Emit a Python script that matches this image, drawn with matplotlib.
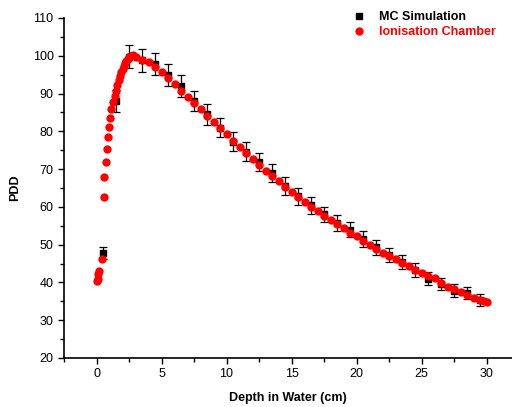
import matplotlib
matplotlib.use("Agg")
import matplotlib.pyplot as plt


# MC simulation (black squares with error bars)
MC_DEPTH = [0.5, 1.5, 2.5, 3.5, 4.5, 5.5, 6.5, 7.5, 8.5, 9.5, 10.5, 11.5, 12.5, 13.5, 14.5,
            15.5, 16.5, 17.5, 18.5, 19.5, 20.5, 21.5, 22.5, 23.5, 24.5, 25.5, 26.5, 27.5, 28.5, 29.5]
MC_PDD = [47.8, 88.0, 99.8, 98.8, 97.8, 95.0, 92.0, 88.0, 84.5, 81.0, 77.3, 74.6, 71.8, 69.0, 65.5,
          62.8, 60.4, 58.0, 55.8, 54.0, 51.5, 49.3, 47.3, 45.4, 43.3, 41.0, 39.6, 37.8, 37.2, 35.3]
MC_ERR = [1.5, 3.0, 3.0, 3.0, 2.9, 2.9, 2.8, 2.7, 2.7, 2.6, 2.5, 2.5, 2.4, 2.4, 2.3,
          2.2, 2.2, 2.1, 2.1, 2.0, 2.0, 2.0, 1.9, 1.9, 1.8, 1.7, 1.7, 1.7, 1.6, 1.6]

# Ionisation chamber measurement (red circles)
IC_DEPTH = [0.05, 0.1, 0.15, 0.2, 0.45, 0.55, 0.6, 0.7, 0.8, 0.85, 0.95, 1.05, 1.15, 1.3, 1.4,
            1.5, 1.6, 1.7, 1.8, 1.9, 2.0, 2.1, 2.2, 2.3, 2.4, 2.5, 2.6, 2.8, 3.0, 3.5,
            4.0, 4.5, 5.0, 5.5, 6.0, 6.5, 7.0, 7.5, 8.0, 8.5, 9.0, 9.5, 10.0, 10.5, 11.0,
            11.5, 12.0, 12.5, 13.0, 13.5, 14.0, 14.5, 15.0, 15.5, 16.0, 16.5, 17.0, 17.5, 18.0, 18.5,
            19.0, 19.5, 20.0, 20.5, 21.0, 21.5, 22.0, 22.5, 23.0, 23.5, 24.0, 24.5, 25.0, 25.5, 26.0,
            26.5, 27.0, 27.5, 28.0, 28.5, 29.0, 29.5, 29.8, 30.0]
IC_PDD = [40.5, 41.0, 42.2, 43.0, 46.3, 62.7, 68.0, 72.0, 75.3, 78.5, 81.2, 83.5, 85.8, 87.8, 89.3,
          90.8, 92.2, 93.5, 94.7, 95.7, 96.6, 97.4, 98.1, 98.7, 99.2, 99.6, 99.9, 100.1, 99.7, 99.0,
          98.3, 97.1, 95.7, 94.0, 92.4, 90.7, 89.1, 87.5, 85.8, 84.1, 82.4, 80.8, 79.2, 77.4, 75.8,
          74.3, 72.6, 71.1, 69.6, 68.2, 66.8, 65.3, 63.9, 62.6, 61.3, 60.0, 58.9, 57.7, 56.5, 55.4,
          54.5, 53.2, 52.2, 51.0, 49.9, 48.9, 47.8, 47.1, 46.2, 45.1, 44.3, 43.3, 42.5, 41.7, 41.1,
          39.9, 38.9, 38.3, 37.5, 36.8, 36.0, 35.4, 35.1, 34.9]

plt.rcParams["font.family"] = ["Liberation Sans", "DejaVu Sans"]

fig = plt.figure(figsize=(5.12, 4.07), dpi=100)
ax = fig.add_axes([0.125, 0.1204, 0.875, 0.8354])

mc = ax.errorbar(MC_DEPTH, MC_PDD, yerr=MC_ERR, fmt="s", color="black", markersize=4.5,
                 ecolor="black", elinewidth=0.9, capsize=3, capthick=0.9, zorder=2)
ic, = ax.plot(IC_DEPTH, IC_PDD, "o", color="#ff0000", markersize=6, markeredgewidth=0,
              zorder=3)

ax.set_xlim(-2.5, 31.96)
ax.set_ylim(20, 110)
ax.set_xticks([0, 5, 10, 15, 20, 25, 30])
ax.set_xticks([-2.5, 2.5, 7.5, 12.5, 17.5, 22.5, 27.5], minor=True)
ax.set_yticks(range(20, 111, 10))
ax.set_yticks(range(25, 111, 10), minor=True)
ax.tick_params(which="major", direction="out", length=4, width=1, labelsize=9)
ax.tick_params(which="minor", direction="out", length=3, width=1)

for side in ["top", "right"]:
    ax.spines[side].set_visible(False)
for side in ["left", "bottom"]:
    ax.spines[side].set_linewidth(1.2)

ax.set_xlabel("Depth in Water (cm)", fontsize=9, fontweight="bold", labelpad=8)
ax.set_ylabel("PDD", fontsize=9, fontweight="bold", labelpad=8)

# legend handles: plain markers, as in the original figure
h_mc, = ax.plot([], [], "s", color="black", markersize=4.5)
h_ic, = ax.plot([], [], "o", color="#ff0000", markersize=6, markeredgewidth=0)
leg = ax.legend([h_mc, h_ic], ["MC Simulation", "Ionisation Chamber"],
                loc="upper left", bbox_to_anchor=(0.63, 1.035), frameon=False,
                fontsize=9, handlelength=1.2, handletextpad=1.0, borderaxespad=0,
                labelspacing=0.25)
for text, color in zip(leg.get_texts(), ["black", "#ff0000"]):
    text.set_color(color)
    text.set_fontweight("bold")

fig.savefig("out.png", dpi=100)
